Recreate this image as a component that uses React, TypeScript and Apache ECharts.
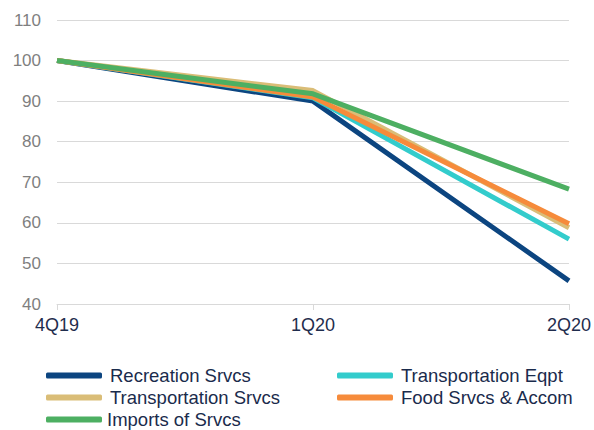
import React, { useEffect, useRef } from "react";
import * as echarts from "echarts";

const categories = ["4Q19", "1Q20", "2Q20"];
const seriesNames = [
  "Recreation Srvcs",
  "Transportation Eqpt",
  "Transportation Srvcs",
  "Food Srvcs & Accom",
  "Imports of Srvcs",
];
const recreation = [100, 90.0, 45.7];
const transEqpt = [100, 90.8, 56.0];
const transSrvcs = [100, 92.6, 58.8];
const foodAccom = [100, 91.0, 59.8];
const imports = [100, 91.8, 68.3];
const yTicks = { min: 40, max: 110, interval: 10 };

const colors = ["#0c4580", "#33cccc", "#dabd77", "#f68b3b", "#4daf62"];
const values = [recreation, transEqpt, transSrvcs, foodAccom, imports];

const legendPos = [
  { left: 46, top: 366 },
  { left: 337, top: 366 },
  { left: 46, top: 388 },
  { left: 337, top: 388 },
  { left: 46, top: 410 },
];

const FONT = "'Liberation Sans', Arial, sans-serif";

export default function App() {
  const ref = useRef<HTMLDivElement>(null);
  useEffect(() => {
    document.body.style.margin = "0";
    const chart = echarts.init(ref.current!, undefined, { renderer: "svg" });
    chart.setOption({
      animation: false,
      grid: { left: 57, right: 23, top: 20, bottom: 126, containLabel: false },
      xAxis: {
        type: "category",
        data: categories,
        boundaryGap: false,
        axisLine: { lineStyle: { color: "#d9d9d9", width: 1 } },
        axisTick: { show: true, length: 6, lineStyle: { color: "#d9d9d9" } },
        axisLabel: {
          color: "#1f2d4d",
          fontSize: 18,
          fontFamily: FONT,
          margin: 12,
        },
      },
      yAxis: {
        type: "value",
        min: yTicks.min,
        max: yTicks.max,
        interval: yTicks.interval,
        axisLine: { show: false },
        axisTick: { show: false },
        splitLine: { lineStyle: { color: "#d9d9d9", width: 1 } },
        axisLabel: {
          color: "#7f7f7f",
          fontSize: 17,
          fontFamily: FONT,
          margin: 16,
        },
      },
      legend: seriesNames.map((n, i) => ({
        data: [n],
        left: legendPos[i].left,
        top: legendPos[i].top,
        icon: "roundRect",
        itemWidth: 56,
        itemHeight: 6,
        itemGap: 0,
        padding: 0,
        textStyle: {
          color: "#1a2b4c",
          fontSize: 18.5,
          fontFamily: FONT,
          padding: [0, 0, 0, i === 4 ? 0 : 3],
        },
      })),
      series: seriesNames.map((n, i) => ({
        name: n,
        type: "line",
        data: values[i],
        showSymbol: false,
        symbol: "none",
        lineStyle: { color: colors[i], width: 5 },
        itemStyle: { color: colors[i] },
        z: 2 + i,
      })),
    });
    return () => chart.dispose();
  }, []);
  return <div ref={ref} style={{ width: 594, height: 430 }} />;
}
